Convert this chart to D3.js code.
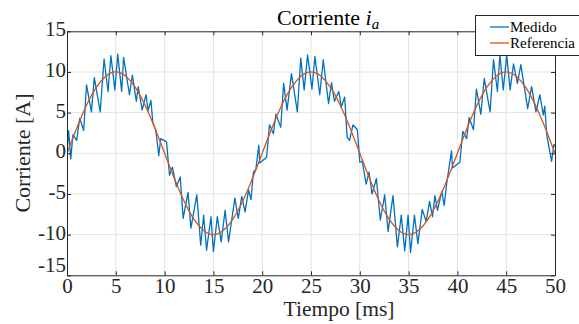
<!DOCTYPE html>
<html>
<head>
<meta charset="utf-8">
<script src="https://cdn.jsdelivr.net/npm/d3@7"></script>
<style>
  html, body { margin: 0; padding: 0; background: #fff; }
  svg { display: block; }
  svg text { font-family: "Liberation Serif", "Times New Roman", serif; }
</style>
</head>
<body>
<svg id="chart" width="579" height="324"></svg>
<script>
const tiempoMedido = [
  0, 0.17, 0.38, 0.61, 0.99, 1.3, 1.71, 2.0, 2.5, 2.8, 3.4, 3.8, 4.2, 4.5, 4.9,
  5.2, 5.6, 5.8, 6.4, 6.7, 7.1, 7.3, 7.7, 8.1, 8.3, 8.6, 8.8, 9.1, 9.4, 9.6,
  10.2, 10.5, 10.8, 11.2, 11.6, 11.9, 12.4, 12.7, 13.3, 13.7, 14.0, 14.3, 14.75,
  15.0, 15.4, 15.8, 16.2, 16.55, 17.2, 17.55, 17.9, 18.25, 18.6, 18.85, 19.1,
  19.35, 19.65, 19.75, 20.45, 20.75, 21.15, 21.4, 21.9, 22.2, 22.55, 23.0, 23.6,
  23.95, 24.3, 24.65, 25.1, 25.4, 25.9, 26.25, 26.8, 27.1, 27.4, 27.85, 28.1,
  28.45, 28.7, 28.95, 29.3, 29.75, 30.0, 30.25, 30.65, 30.95, 31.25, 31.7, 32.1,
  32.55, 32.9, 33.4, 33.85, 34.25, 34.6, 34.95, 35.2, 35.6, 35.95, 36.4, 36.8,
  37.15, 37.45, 37.7, 37.95, 38.4, 38.65, 38.9, 39.4, 39.5, 40.25, 40.55, 40.95,
  41.2, 41.65, 41.95, 42.4, 42.75, 43.35, 43.7, 44.1, 44.35, 44.7, 45.05, 45.4,
  45.75, 46.15, 46.5, 47.2, 47.6, 48.05, 48.45, 48.8, 48.95, 49.15, 49.65, 49.9, 50.0
];
const medido = [
  0, 2.8, -0.7, 2.3, 1.6, 4.3, 2.8, 8.4, 5.1, 9.3, 5.1, 11.6, 7.6, 12.0, 7.8,
  12.2, 7.6, 11.8, 7.2, 9.6, 6.4, 8.2, 5.3, 7.2, 5.2, 6.5, 3.7, 2.9, -0.3, 1.8,
  1.4, -2.7, -1.7, -4.1, -2.9, -8.0, -4.8, -9.2, -5.1, -11.3, -7.6, -11.9, -7.8,
  -12.1, -7.8, -10.9, -7.0, -10.9, -5.5, -8.0, -5.3, -7.2, -4.5, -5.7, -2.3,
  -2.0, 1.0, -1.2, -0.5, 3.5, 2.4, 4.8, 3.2, 8.6, 5.3, 9.8, 5.1,
  11.7, 7.8, 12.1, 7.9, 11.9, 7.2, 11.5, 6.1, 8.7, 6.4, 7.6, 5.7,
  6.9, 2.0, 1.6, 3.5, 2.9, -1.1, -1.0, -3.8, -2.3, -5.0, -3.1, -8.2,
  -5.1, -9.6, -5.2, -11.5, -7.6, -12.0, -7.6, -12.2, -7.6, -11.1, -6.9, -8.4,
  -5.9, -7.8, -5.2, -7.0, -4.7, -6.4, -3.7, 0.3, -1.8, -1.1, 2.7, 1.8,
  4.4, 2.9, 7.9, 4.8, 9.2, 5.1, 11.5, 7.6, 12.1, 7.8, 12.1, 7.8,
  11.0, 8.6, 10.9, 5.5, 8.2, 5.1, 7.2, 4.7, 5.8, 2.3, -1.0, 1.1, 0.9
];

// Corriente de referencia, una muestra por ms
const tiempoRef = d3.range(0, 51);
const referencia = [
  0, 3.1, 5.9, 8.1, 9.5, 10, 9.5, 8.1, 5.9, 3.1,
  0, -3.1, -5.9, -8.1, -9.5, -10, -9.5, -8.1, -5.9, -3.1,
  0, 3.1, 5.9, 8.1, 9.5, 10, 9.5, 8.1, 5.9, 3.1,
  0, -3.1, -5.9, -8.1, -9.5, -10, -9.5, -8.1, -5.9, -3.1,
  0, 3.1, 5.9, 8.1, 9.5, 10, 9.5, 8.1, 5.9, 3.1, 0
];

const xTicks = [0, 5, 10, 15, 20, 25, 30, 35, 40, 45, 50];
const yTicks = [-15, -10, -5, 0, 5, 10, 15];
const series = ['Medido', 'Referencia'];
const colors = ['#0072BD', '#D95319'];

const axisColor = '#262626';
const plot = {left: 67, right: 555, top: 31.3, bottom: 275.3};

const svg = d3.select('#chart');

const x = d3.scaleLinear().domain([0, 50]).range([plot.left, plot.right]);
const y = d3.scaleLinear().domain([-15, 15]).range([plot.bottom, plot.top]);

// rejilla
const grid = svg.append('g').attr('stroke', '#e3e3e3').attr('stroke-width', 1);
grid.selectAll('line.gx')
  .data(xTicks.slice(1, -1))
  .join('line')
  .attr('class', 'gx')
  .attr('x1', d => x(d)).attr('x2', d => x(d))
  .attr('y1', plot.top).attr('y2', plot.bottom);
grid.selectAll('line.gy')
  .data(yTicks.slice(1, -1))
  .join('line')
  .attr('class', 'gy')
  .attr('x1', plot.left).attr('x2', plot.right)
  .attr('y1', d => y(d)).attr('y2', d => y(d));

svg.append('clipPath').attr('id', 'clip')
  .append('rect')
  .attr('x', plot.left).attr('y', plot.top)
  .attr('width', plot.right - plot.left)
  .attr('height', plot.bottom - plot.top);

const lineOf = (xs, curve) => d3.line()
  .x((d, i) => x(xs[i]))
  .y(d => y(d))
  .curve(curve);

const lines = svg.append('g').attr('clip-path', 'url(#clip)').attr('fill', 'none');
lines.append('path')
  .datum(medido)
  .attr('d', lineOf(tiempoMedido, d3.curveLinear))
  .attr('stroke', colors[0])
  .attr('stroke-width', 1.3)
  .attr('stroke-linejoin', 'round');
lines.append('path')
  .datum(referencia)
  .attr('d', lineOf(tiempoRef, d3.curveNatural))
  .attr('stroke', colors[1])
  .attr('stroke-width', 1.3);

// ejes con marcas hacia dentro, en los cuatro lados
const styleAxis = (g) => {
  g.select('.domain').attr('stroke', axisColor);
  g.selectAll('.tick line').attr('stroke', axisColor);
  g.selectAll('.tick text')
    .attr('fill', axisColor)
    .attr('font-size', 21);
};

svg.append('g')
  .attr('transform', `translate(0,${plot.bottom})`)
  .call(d3.axisBottom(x).tickValues(xTicks).tickSizeInner(-4).tickSizeOuter(0).tickPadding(3))
  .call(styleAxis)
  .call(g => g.selectAll('.tick text').attr('dy', '0.68em'));

svg.append('g')
  .attr('transform', `translate(0,${plot.top})`)
  .call(d3.axisTop(x).tickValues(xTicks).tickSizeInner(-4).tickSizeOuter(0).tickFormat(''))
  .call(styleAxis);

svg.append('g')
  .attr('transform', `translate(${plot.left},0)`)
  .call(d3.axisLeft(y).tickValues(yTicks).tickSizeInner(-4).tickSizeOuter(0).tickPadding(1)
    .tickFormat(d => String(d)))
  .call(styleAxis)
  .call(g => g.selectAll('.tick text').attr('dy', d => d === -15 ? '-0.2em' : '0.22em'));

svg.append('g')
  .attr('transform', `translate(${plot.right},0)`)
  .call(d3.axisRight(y).tickValues(yTicks).tickSizeInner(-4).tickSizeOuter(0).tickFormat(''))
  .call(styleAxis);

// titulo y etiquetas
const title = svg.append('text')
  .attr('x', 277).attr('y', 25)
  .attr('font-size', 22)
  .attr('fill', '#000');
title.append('tspan').text('Corriente ');
title.append('tspan').attr('font-style', 'italic').text('i');
title.append('tspan').attr('font-style', 'italic').attr('font-size', 15).attr('dy', 4).text('a');

svg.append('text')
  .attr('x', 339).attr('y', 316)
  .attr('text-anchor', 'middle')
  .attr('font-size', 21.5)
  .attr('fill', axisColor)
  .text('Tiempo [ms]');

svg.append('text')
  .attr('transform', 'translate(30,153) rotate(-90)')
  .attr('text-anchor', 'middle')
  .attr('font-size', 22)
  .attr('fill', axisColor)
  .text('Corriente [A]');

// leyenda
const legend = svg.append('g').attr('transform', 'translate(475,15)');
legend.append('rect')
  .attr('x', 0.5).attr('y', 0.5)
  .attr('width', 110).attr('height', 40)
  .attr('fill', '#fff')
  .attr('stroke', axisColor);
const rows = legend.selectAll('g.row')
  .data(series)
  .join('g')
  .attr('class', 'row')
  .attr('transform', (d, i) => `translate(0,${12 + i * 16})`);
rows.append('line')
  .attr('x1', 15).attr('x2', 34)
  .attr('stroke', (d, i) => colors[i])
  .attr('stroke-width', 1.3);
rows.append('text')
  .attr('x', 35).attr('dy', '0.32em')
  .attr('font-size', 15)
  .attr('fill', '#000')
  .text(d => d);
</script>
</body>
</html>
